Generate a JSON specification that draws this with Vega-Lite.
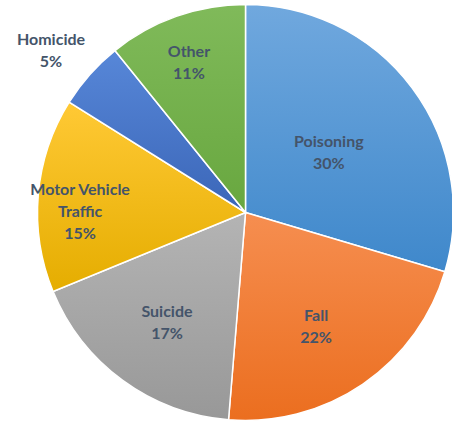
{
  "$schema": "https://vega.github.io/schema/vega-lite/v6.json",
  "width": 413,
  "height": 423,
  "autosize": {"type": "none"},
  "padding": {"left": 39, "top": 1, "right": 0, "bottom": 0},
  "background": "white",
  "config": {"view": {"stroke": null}},
  "data": {
    "values": [
      {"idx": 1, "cause": "Poisoning", "value": 29.6, "label": "Poisoning\n30%"},
      {"idx": 2, "cause": "Fall", "value": 21.7, "label": "Fall\n22%"},
      {"idx": 3, "cause": "Suicide", "value": 17.5, "label": "Suicide\n17%"},
      {"idx": 4, "cause": "Motor Vehicle Traffic", "value": 15.1, "label": "Motor Vehicle\nTraffic\n15%"},
      {"idx": 5, "cause": "Homicide", "value": 5.3, "label": "Homicide\n5%"},
      {"idx": 6, "cause": "Other", "value": 10.8, "label": "Other\n11%"}
    ]
  },
  "transform": [
    {"stack": "value", "groupby": [], "sort": [{"field": "idx", "order": "ascending"}], "as": ["v0", "v1"]}
  ],
  "resolve": {"scale": {"theta": "independent"}},
  "layer": [
    {
      "layer": [
        {
          "transform": [{"filter": "datum.cause === 'Poisoning'"}],
          "mark": {"type": "arc", "outerRadius": 208, "stroke": "white", "strokeWidth": 1.5,
            "color": {"gradient": "linear", "x1": 0, "y1": 0, "x2": 0, "y2": 1,
              "stops": [{"offset": 0, "color": "#70A8DE"}, {"offset": 1, "color": "#3F88CB"}]}}
        },
        {
          "transform": [{"filter": "datum.cause === 'Fall'"}],
          "mark": {"type": "arc", "outerRadius": 208, "stroke": "white", "strokeWidth": 1.5,
            "color": {"gradient": "linear", "x1": 0, "y1": 0, "x2": 0, "y2": 1,
              "stops": [{"offset": 0, "color": "#F68E50"}, {"offset": 1, "color": "#EB6E1F"}]}}
        },
        {
          "transform": [{"filter": "datum.cause === 'Suicide'"}],
          "mark": {"type": "arc", "outerRadius": 208, "stroke": "white", "strokeWidth": 1.5,
            "color": {"gradient": "linear", "x1": 0, "y1": 0, "x2": 0, "y2": 1,
              "stops": [{"offset": 0, "color": "#B4B4B4"}, {"offset": 1, "color": "#989898"}]}}
        },
        {
          "transform": [{"filter": "datum.cause === 'Motor Vehicle Traffic'"}],
          "mark": {"type": "arc", "outerRadius": 208, "stroke": "white", "strokeWidth": 1.5,
            "color": {"gradient": "linear", "x1": 0, "y1": 0, "x2": 0, "y2": 1,
              "stops": [{"offset": 0, "color": "#FFC935"}, {"offset": 1, "color": "#E5AD00"}]}}
        },
        {
          "transform": [{"filter": "datum.cause === 'Homicide'"}],
          "mark": {"type": "arc", "outerRadius": 208, "stroke": "white", "strokeWidth": 1.5,
            "color": {"gradient": "linear", "x1": 0, "y1": 0, "x2": 0, "y2": 1,
              "stops": [{"offset": 0, "color": "#5787D8"}, {"offset": 1, "color": "#3B66B8"}]}}
        },
        {
          "transform": [{"filter": "datum.cause === 'Other'"}],
          "mark": {"type": "arc", "outerRadius": 208, "stroke": "white", "strokeWidth": 1.5,
            "color": {"gradient": "linear", "x1": 0, "y1": 0, "x2": 0, "y2": 1,
              "stops": [{"offset": 0, "color": "#80BA5A"}, {"offset": 1, "color": "#68A73F"}]}}
        }
      ],
      "encoding": {
        "theta": {"field": "v0", "type": "quantitative", "scale": {"domain": [0, 100]}},
        "theta2": {"field": "v1"}
      }
    },
    {
      "mark": {"type": "text", "font": "Lato", "fontWeight": "bold", "fontSize": 16,
        "lineHeight": 22, "lineBreak": "\n", "color": "#44546A", "align": "center",
        "baseline": {"expr": "datum.cause === 'Poisoning' || datum.cause === 'Motor Vehicle Traffic' || datum.cause === 'Suicide' ? 'bottom' : 'middle'"}},
      "encoding": {
        "theta": {"field": "value", "type": "quantitative", "stack": true, "scale": {"domain": [0, 100]}},
        "order": {"field": "idx", "type": "quantitative"},
        "text": {"field": "label", "type": "nominal"},
        "radius": {"value": {"expr": "datum.cause === 'Poisoning' ? 104 : datum.cause === 'Fall' ? 125 : datum.cause === 'Suicide' ? 133 : datum.cause === 'Motor Vehicle Traffic' ? 166 : datum.cause === 'Homicide' ? 260 : 170"}}
      }
    }
  ]
}
